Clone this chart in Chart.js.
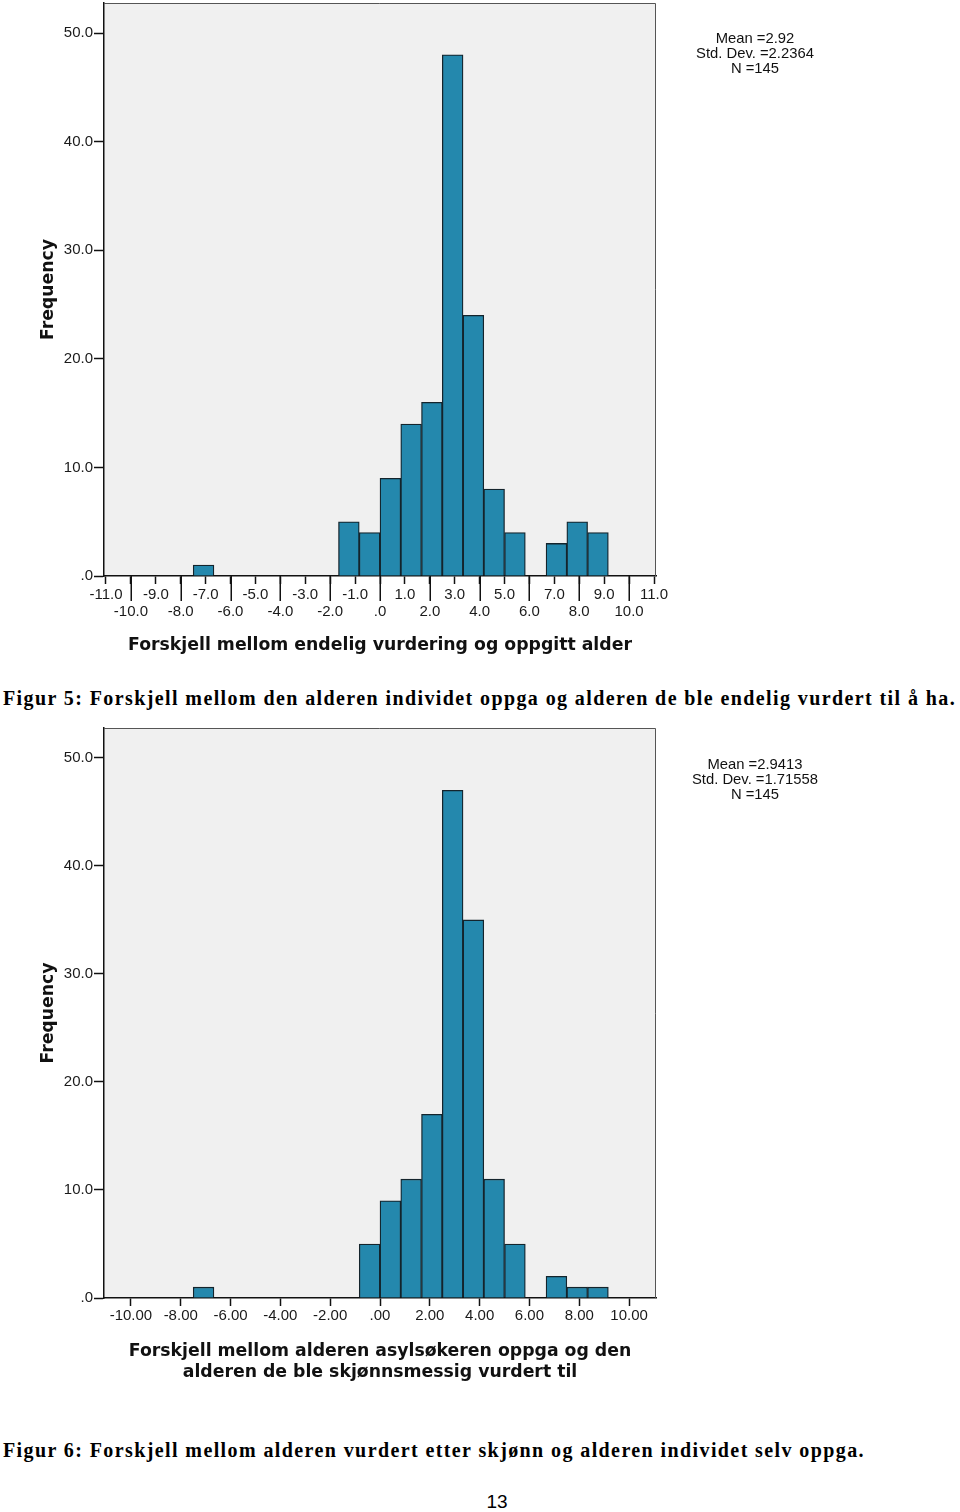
<!DOCTYPE html>
<html>
<head>
<meta charset="utf-8">
<script src="https://cdn.jsdelivr.net/npm/chart.js@4.4.1/dist/chart.umd.min.js"></script>
<style>
html,body{margin:0;padding:0;background:#fff;}
body{width:960px;height:1512px;position:relative;overflow:hidden;}
.wrap{position:absolute;left:0;width:700px;}
#w1{top:0;height:665px;}
#w2{top:725px;height:670px;}
.stats{position:absolute;left:655px;width:200px;text-align:center;font-family:"Liberation Sans",Arial,sans-serif;font-size:14.8px;line-height:15px;color:#111;}
.cap{position:absolute;left:3px;font-family:"Liberation Serif","Times New Roman",serif;font-weight:bold;font-size:20px;letter-spacing:1.4px;line-height:24px;white-space:nowrap;color:#000;}
.page{position:absolute;left:470px;width:54px;text-align:center;top:1490px;font-family:"Liberation Sans",Arial,sans-serif;font-size:19px;line-height:24px;color:#000;}
</style>
</head>
<body>
<div class="wrap" id="w1"><canvas id="c1"></canvas></div>
<div class="stats" style="top:30.5px">Mean =2.92<br>Std. Dev. =2.2364<br>N =145</div>
<div class="cap" style="top:686px">Figur 5: Forskjell mellom den alderen individet oppga og alderen de ble endelig vurdert til å ha.</div>
<div class="wrap" id="w2"><canvas id="c2"></canvas></div>
<div class="stats" style="top:756.5px">Mean =2.9413<br>Std. Dev. =1.71558<br>N =145</div>
<div class="cap" style="top:1438px">Figur 6: Forskjell mellom alderen vurdert etter skjønn og alderen individet selv oppga.</div>
<div class="page">13</div>
<script>
// ---- Data ----
// Figure 5: histogram bin centers and frequencies
const bins1 = [-7.083, -1.25, -0.417, 0.417, 1.25, 2.083, 2.917, 3.75, 4.583, 5.417, 7.083, 7.917, 8.75];
const freq1 = [1, 5, 4, 9, 14, 16, 48, 24, 8, 4, 3, 5, 4];
const xTicks1 = [-11, -10, -9, -8, -7, -6, -5, -4, -3, -2, -1, 0, 1, 2, 3, 4, 5, 6, 7, 8, 9, 10, 11];
// Figure 6
const bins2 = [-7.083, -0.417, 0.417, 1.25, 2.083, 2.917, 3.75, 4.583, 5.417, 7.083, 7.917, 8.75];
const freq2 = [1, 5, 9, 11, 17, 47, 35, 11, 5, 2, 1, 1];
const xTicks2 = [-10, -8, -6, -4, -2, 0, 2, 4, 6, 8, 10];
const yTicks = [0, 10, 20, 30, 40, 50];
const xTitle1 = 'Forskjell mellom endelig vurdering og oppgitt alder';
const xTitle2 = ['Forskjell mellom alderen asylsøkeren oppga og den', 'alderen de ble skjønnsmessig vurdert til'];
const yTitle = 'Frequency';

// ---- Helpers ----
function spssFmt(v, d) {
  let s = Math.abs(v).toFixed(d);
  if (s.startsWith('0.')) s = s.slice(1);
  return (v < 0 ? '-' : '') + s;
}
const TICK_FONT = {family: '"Liberation Sans", Arial, sans-serif', size: 15, lineHeight: 1.15};
const TITLE_FONT = {family: '"DejaVu Sans", Verdana, sans-serif', size: 17.3, weight: 'bold', lineHeight: 1.214};

const framePlugin = {
  id: 'frame',
  beforeDraw(chart) {
    const {ctx, chartArea: a} = chart;
    ctx.save();
    ctx.fillStyle = '#f0f0f0';
    ctx.fillRect(a.left, a.top, a.right - a.left, a.bottom - a.top);
    ctx.restore();
  },
  afterDraw(chart) {
    const {ctx, chartArea: a} = chart;
    ctx.save();
    ctx.strokeStyle = '#555';
    ctx.lineWidth = 1;
    ctx.beginPath();
    ctx.moveTo(a.left, a.top + 0.5);
    ctx.lineTo(a.right - 0.5, a.top + 0.5);
    ctx.lineTo(a.right - 0.5, a.bottom);
    ctx.stroke();
    const opts = chart.options.plugins.frame || {};
    if (opts.longTicks) {
      const xs = chart.scales.x;
      ctx.strokeStyle = '#111';
      ctx.lineWidth = 1.5;
      ctx.beginPath();
      opts.longTicks.forEach(v => {
        const px = Math.round(xs.getPixelForValue(v)) + 0.25;
        ctx.moveTo(px, a.bottom);
        ctx.lineTo(px, a.bottom + 25);
      });
      ctx.stroke();
    }
    ctx.restore();
  }
};

function makeChart(id, bins, freq, xTicks, xDec, xLabel, H, axisH, titlePadBottom, stagger, tickPad) {
  const data = bins.map((b, i) => ({x: b, y: freq[i]}));
  return new Chart(document.getElementById(id), {
    type: 'bar',
    data: {datasets: [{
      data: data,
      backgroundColor: '#2488ad',
      borderColor: '#14242c',
      borderWidth: 1.3,
      barPercentage: 1,
      categoryPercentage: 1
    }]},
    options: {
      responsive: true,
      maintainAspectRatio: false,
      animation: false,
      events: [],
      layout: {padding: {top: 3, right: 44, left: 0, bottom: 0}},
      plugins: {
        legend: {display: false},
        tooltip: {enabled: false},
        frame: {longTicks: stagger ? xTicks.filter(v => v % 2 === 0) : null}
      },
      scales: {
        x: {
          type: 'linear',
          min: -11.08,
          max: 11.08,
          offset: false,
          afterBuildTicks: s => { s.ticks = xTicks.map(v => ({value: v})); },
          afterFit: s => { s.height = axisH; },
          grid: {offset: false, drawOnChartArea: false, drawTicks: true, tickLength: 8, tickColor: '#111', tickWidth: 1.5},
          border: {display: true, color: '#111', width: 1.5},
          ticks: {
            autoSkip: false, maxRotation: 0, minRotation: 0, padding: tickPad,
            color: '#1a1a1a', font: TICK_FONT,
            callback: v => {
              const s = spssFmt(v, xDec);
              return (stagger && v % 2 === 0) ? ['', s] : s;
            }
          },
          title: {display: true, text: xLabel, color: '#111', font: TITLE_FONT, padding: {top: 0, bottom: titlePadBottom}}
        },
        y: {
          min: 0,
          max: 52.77,
          afterBuildTicks: s => { s.ticks = yTicks.map(v => ({value: v})); },
          afterFit: s => { s.width = 104; s.paddingTop = 0; s.paddingBottom = 0; },
          grid: {drawOnChartArea: false, drawTicks: true, tickLength: 10, tickColor: '#111', tickWidth: 1.5},
          border: {display: true, color: '#111', width: 1.5},
          ticks: {padding: 1, color: '#1a1a1a', font: TICK_FONT, callback: v => spssFmt(v, 1)},
          title: {display: true, text: yTitle, color: '#111', font: TITLE_FONT, padding: {top: 37.6, bottom: 0}}
        }
      }
    },
    plugins: [framePlugin]
  });
}

makeChart('c1', bins1, freq1, xTicks1, 1, xTitle1, 665, 89, 8.6, true, 2.4);
makeChart('c2', bins2, freq2, xTicks2, 2, xTitle2, 670, 97, 11.5, false, 1.6);
</script>
</body>
</html>
